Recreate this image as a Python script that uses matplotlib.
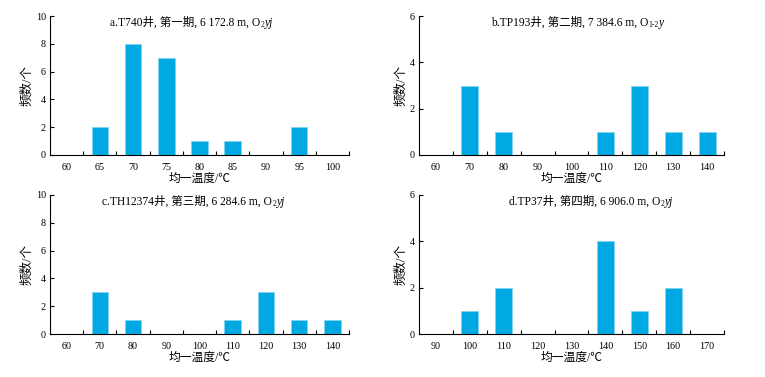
import matplotlib
matplotlib.use("Agg")
import matplotlib.pyplot as plt
import numpy as np

FAM = ['Liberation Serif', 'Noto Sans CJK SC']
plt.rcParams['font.family'] = FAM

# ---- data ----
cats_a = ['60', '65', '70', '75', '80', '85', '90', '95', '100']
vals_a = [0, 2, 8, 7, 1, 1, 0, 2, 0]
cats_b = ['60', '70', '80', '90', '100', '110', '120', '130', '140']
vals_b = [0, 3, 1, 0, 0, 1, 3, 1, 1]
cats_c = ['60', '70', '80', '90', '100', '110', '120', '130', '140']
vals_c = [0, 3, 1, 0, 0, 1, 3, 1, 1]
cats_d = ['90', '100', '110', '120', '130', '140', '150', '160', '170']
vals_d = [0, 1, 2, 0, 0, 4, 1, 2, 0]

titles = [
    ("a.T740井, 第一期, 6 172.8 m, O", "2", "yj"),
    ("b.TP193井, 第二期, 7 384.6 m, O", "1-2", "y"),
    ("c.TH12374井, 第三期, 6 284.6 m, O", "2", "yj"),
    ("d.TP37井, 第四期, 6 906.0 m, O", "2", "yj"),
]
ymaxes = [10, 6, 10, 6]
yticks = [[0, 2, 4, 6, 8, 10], [0, 2, 4, 6], [0, 2, 4, 6, 8, 10], [0, 2, 4, 6]]
title_x = [0.20, 0.236, 0.174, 0.295]

W, H = 765, 377
fig = plt.figure(figsize=(W / 100, H / 100), dpi=100)
boxes = [(50, 16, 299, 139), (419, 16, 305, 139), (50, 195, 299, 139), (419, 195, 305, 139)]
color = '#00A9E2'

for i, (cats, vals) in enumerate([(cats_a, vals_a), (cats_b, vals_b), (cats_c, vals_c), (cats_d, vals_d)]):
    x0, y0, w, h = boxes[i]
    ax = fig.add_axes([x0 / W, (H - y0 - h) / H, w / W, h / H])
    n = len(cats)
    xs = np.arange(n)
    ax.bar(xs, vals, width=0.5, color=color, edgecolor='#7fd4f0', linewidth=0.5)
    ax.set_xlim(-0.5, n - 0.5)
    ax.set_ylim(0, ymaxes[i])
    ax.set_yticks(yticks[i])
    ax.set_xticks(xs)
    ax.set_xticklabels(cats)
    ax.set_xticks(np.arange(0.5, n, 1.0), minor=True)
    ax.tick_params(axis='x', which='major', length=0, labelsize=7.3, pad=6)
    ax.tick_params(axis='x', which='minor', direction='in', length=3, width=0.8)
    ax.tick_params(axis='y', direction='in', length=3, width=0.8, labelsize=7.3, pad=3)
    for s in ['top', 'right']:
        ax.spines[s].set_visible(False)
    for s in ['left', 'bottom']:
        ax.spines[s].set_linewidth(0.8)
    ax.set_xlabel('均一温度/℃', fontsize=8.5, labelpad=0.5)
    ax.set_ylabel('频数/个', fontsize=9, labelpad=1.5)
    main, sub, it = titles[i]
    t1 = ax.text(title_x[i], 0.995, main, transform=ax.transAxes, ha='left', va='top', fontsize=8.3)
    t2 = ax.annotate(sub, xy=(1, 0), xycoords=t1, xytext=(0.2, 0), textcoords='offset points',
                     ha='left', va='bottom', fontsize=5.5)
    ax.annotate(it, xy=(1, 0), xycoords=(t2, t1), xytext=(0.3, 0), textcoords='offset points',
                ha='left', va='bottom', fontsize=8.3, style='italic')

fig.savefig('out.png', dpi=100)
